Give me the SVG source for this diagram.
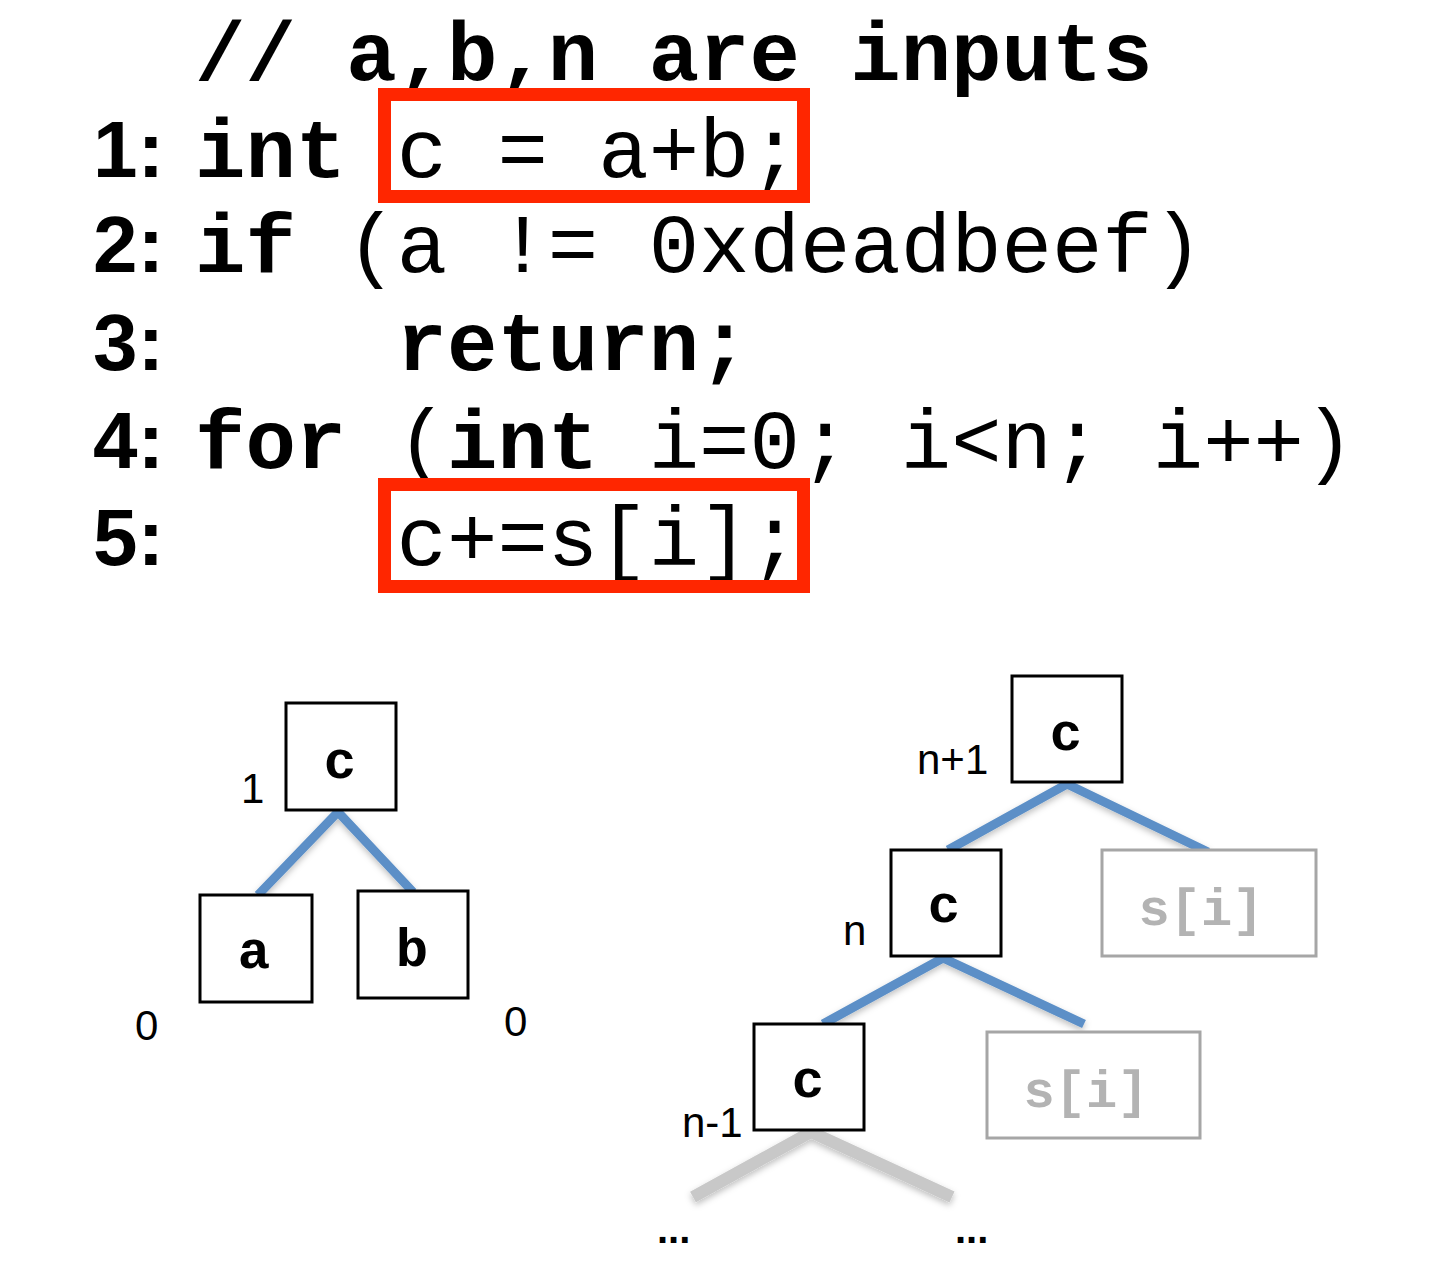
<svg xmlns="http://www.w3.org/2000/svg" width="1446" height="1262" viewBox="0 0 1446 1262">
<defs>
<style>
.code{font-family:"Liberation Mono","Courier New",monospace;font-size:84px;fill:#000}
.b{font-weight:bold}
.num{font-family:"Liberation Sans",Arial,sans-serif;font-weight:bold;font-size:80px;fill:#000}
.hl{fill:none;stroke:#FF2600;stroke-width:13}
.node rect{fill:#fff;stroke:#000;stroke-width:3}
.node text{font-family:"Liberation Mono","Courier New",monospace;font-weight:bold;font-size:54px;text-anchor:middle;fill:#000}
.ghost rect{fill:#fff;stroke:#a6a6a6;stroke-width:3}
.ghost text{font-family:"Liberation Mono","Courier New",monospace;font-weight:bold;font-size:52px;text-anchor:middle;fill:#b3b3b3}
.lbl{font-family:"Liberation Sans",Arial,sans-serif;font-size:42px;fill:#000}
.edge{stroke:#5B8FC7;stroke-width:9;fill:none}
.gedge{stroke:#C8C8C8;stroke-width:12;fill:none}
.dots{font-family:"Liberation Sans",Arial,sans-serif;font-weight:bold;font-size:40px;fill:#000}
</style>
<filter id="sh" x="-20%" y="-20%" width="140%" height="140%">
<feDropShadow dx="0" dy="3" stdDeviation="3" flood-color="#000" flood-opacity="0.25"/>
</filter>
</defs>

<g id="code">
<text class="code b" x="195" y="80" xml:space="preserve">// a,b,n are inputs</text>
<text class="num" x="93" y="177">1:</text>
<text class="code" x="195" y="177" xml:space="preserve"><tspan class="b">int</tspan> c = a+b;</text>
<text class="num" x="93" y="272">2:</text>
<text class="code" x="195" y="272" xml:space="preserve"><tspan class="b">if</tspan> (a != 0xdeadbeef)</text>
<text class="num" x="93" y="370">3:</text>
<text class="code b" x="396.6" y="370" xml:space="preserve">return;</text>
<text class="num" x="93" y="468">4:</text>
<text class="code" x="195" y="468" xml:space="preserve"><tspan class="b">for</tspan> (<tspan class="b">int</tspan> i=0; i&lt;n; i++)</text>
<text class="num" x="93" y="565">5:</text>
<text class="code" x="396.6" y="565" xml:space="preserve">c+=s[i];</text>
</g>

<g id="highlights">
<rect class="hl" x="384.5" y="94.5" width="419" height="102"/>
<rect class="hl" x="384.5" y="484.5" width="419" height="102"/>
</g>

<g id="connectors" filter="url(#sh)">
<polyline class="edge" points="258,895 338,812 413,892"/>
<polyline class="edge" points="948,850 1067,784 1208,852"/>
<polyline class="edge" points="823,1024 943,958 1084,1024"/>
<polyline class="gedge" points="693,1197 811,1132 952,1197"/>
</g>

<g id="left-c" class="node"><rect x="286" y="703" width="110" height="107"/><text x="340" y="778">c</text></g>
<g id="left-a" class="node"><rect x="200" y="895" width="112" height="107"/><text x="254" y="968">a</text></g>
<g id="left-b" class="node"><rect x="358" y="891" width="110" height="107"/><text x="412" y="966">b</text></g>

<g id="right-c1" class="node"><rect x="1012" y="676" width="110" height="106"/><text x="1066" y="750">c</text></g>
<g id="right-c2" class="node"><rect x="891" y="850" width="110" height="106"/><text x="944" y="922">c</text></g>
<g id="right-c3" class="node"><rect x="754" y="1024" width="110" height="106"/><text x="808" y="1097">c</text></g>
<g id="right-s1" class="ghost"><rect x="1102" y="850" width="214" height="106"/><text x="1201" y="925">s[i]</text></g>
<g id="right-s2" class="ghost"><rect x="987" y="1032" width="213" height="106"/><text x="1086" y="1107">s[i]</text></g>

<g id="labels">
<text class="lbl" x="241" y="803">1</text>
<text class="lbl" x="135" y="1040">0</text>
<text class="lbl" x="504" y="1036">0</text>
<text class="lbl" x="917" y="774">n+1</text>
<text class="lbl" x="843" y="945">n</text>
<text class="lbl" x="682" y="1137">n-1</text>
<text class="dots" x="657" y="1243">...</text>
<text class="dots" x="955" y="1243">...</text>
</g>
</svg>
